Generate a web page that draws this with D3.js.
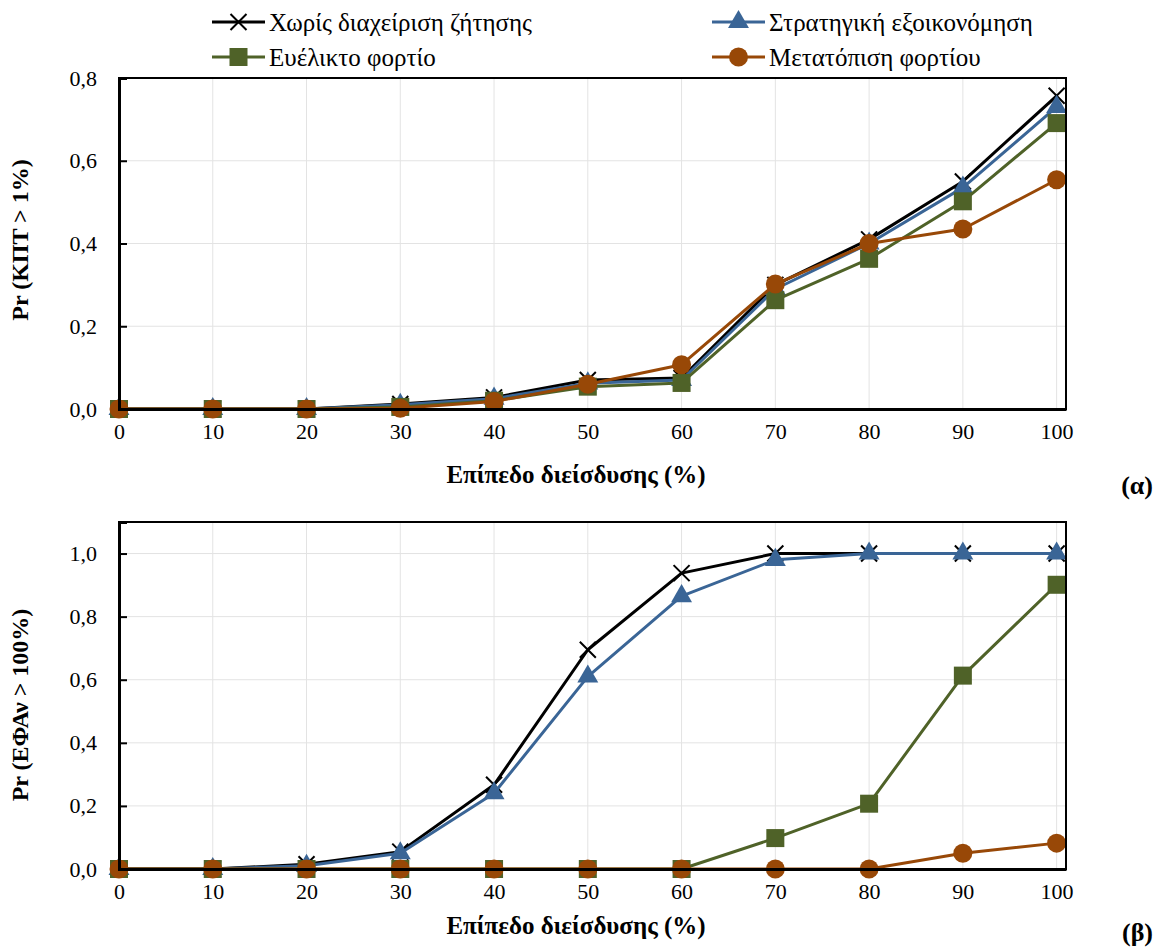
<!DOCTYPE html>
<html>
<head>
<meta charset="utf-8">
<script src="https://cdn.jsdelivr.net/npm/d3@7"></script>
<style>
  body { margin: 0; background: #fff; }
  text { font-family: "Liberation Serif", "DejaVu Serif", serif; fill: #000; }
</style>
</head>
<body>
<div id="chart"></div>
<script>
// penetration levels (x)
let levels = [0, 10, 20, 30, 40, 50, 60, 70, 80, 90, 100];

let seriesNames = ["Χωρίς διαχείριση ζήτησης", "Στρατηγική εξοικονόμηση", "Ευέλικτο φορτίο", "Μετατόπιση φορτίου"];

// (α) Pr (ΚΠΤ > 1%)
let noDR_a     = [0, 0, 0, 0.012, 0.028, 0.07, 0.075, 0.30, 0.41, 0.55, 0.757];
let saving_a   = [0, 0, 0, 0.010, 0.025, 0.062, 0.07, 0.29, 0.40, 0.535, 0.73];
let flexible_a = [0, 0, 0, 0.005, 0.02, 0.054, 0.063, 0.263, 0.363, 0.502, 0.691];
let shift_a    = [0, 0, 0, 0.002, 0.018, 0.06, 0.107, 0.302, 0.40, 0.435, 0.554];

// (β) Pr (ΕΦΑν > 100%)
let noDR_b     = [0, 0, 0.015, 0.055, 0.267, 0.695, 0.938, 1, 1, 1, 1];
let saving_b   = [0, 0, 0.01, 0.05, 0.24, 0.61, 0.865, 0.98, 1, 1, 1];
let flexible_b = [0, 0, 0, 0, 0, 0, 0, 0.098, 0.207, 0.613, 0.901];
let shift_b    = [0, 0, 0, 0, 0, 0, 0, 0, 0, 0.05, 0.082];

let yTicksA = [0, 0.2, 0.4, 0.6, 0.8];
let yTicksB = [0, 0.2, 0.4, 0.6, 0.8, 1.0];

let colors = ["#000000", "#3A6596", "#4F6228", "#984807"];
let markers = ["cross", "triangle", "square", "circle"];

let width = 1159, height = 952;

let svg = d3.select("#chart")
    .append("svg")
    .attr("width", width)
    .attr("height", height);

let x = d3.scaleLinear().domain([0, 101]).range([119, 1066]);

let fmt = d => d3.format(".1f")(d).replace(".", ",");

function drawMarker(g, type, color) {
    if (type === "cross") {
        g.append("path")
            .attr("d", "M-8,-8L8,8M-8,8L8,-8")
            .attr("stroke", color)
            .attr("stroke-width", 2)
            .attr("fill", "none");
    } else if (type === "triangle") {
        g.append("path")
            .attr("d", d3.symbol().type(d3.symbolTriangle).size(190)())
            .attr("fill", color);
    } else if (type === "square") {
        g.append("rect")
            .attr("x", -9).attr("y", -9)
            .attr("width", 18).attr("height", 18)
            .attr("fill", color);
    } else {
        g.append("circle")
            .attr("r", 9.5)
            .attr("fill", color);
    }
}

function drawPanel(top, bottom, yMax, yTicks, data, yTitle, yTitleY, xTitleY, tag, tagY) {
    let y = d3.scaleLinear().domain([0, yMax]).range([bottom, top]);
    let g = svg.append("g");

    // grid
    g.append("g").selectAll("line").data(levels).enter()
        .append("line")
        .attr("x1", d => x(d)).attr("x2", d => x(d))
        .attr("y1", top).attr("y2", bottom)
        .attr("stroke", "#e3e3e3").attr("stroke-width", 1);
    g.append("g").selectAll("line").data(yTicks).enter()
        .append("line")
        .attr("x1", x(0)).attr("x2", x(101))
        .attr("y1", d => y(d)).attr("y2", d => y(d))
        .attr("stroke", "#e3e3e3").attr("stroke-width", 1);

    // lines
    let line = d3.line().x((d, i) => x(levels[i])).y(d => y(d));
    data.forEach(function(vals, k) {
        g.append("path")
            .datum(vals)
            .attr("d", line)
            .attr("fill", "none")
            .attr("stroke", colors[k])
            .attr("stroke-width", 3)
            .attr("stroke-linejoin", "round");
        vals.forEach(function(v, i) {
            let m = g.append("g").attr("transform", `translate(${x(levels[i])},${y(v)})`);
            drawMarker(m, markers[k], colors[k]);
        });
    });

    // box
    g.append("rect")
        .attr("x", x(0)).attr("y", top)
        .attr("width", x(101) - x(0)).attr("height", bottom - top)
        .attr("fill", "none").attr("stroke", "#000").attr("stroke-width", 2);

    // y axis
    let yAxis = g.append("g")
        .attr("transform", `translate(${x(0)},0)`)
        .call(d3.axisLeft(y).tickValues(yTicks).tickSize(-8).tickPadding(22).tickFormat(fmt));
    yAxis.select(".domain").attr("stroke-width", 3);
    yAxis.selectAll(".tick line").attr("stroke-width", 2);
    yAxis.selectAll("text").style("font-size", "22px").style("font-family", "Liberation Serif");

    // x axis
    let xAxis = g.append("g")
        .attr("transform", `translate(0,${bottom})`)
        .call(d3.axisBottom(x).tickValues(levels).tickSize(0).tickPadding(14).tickFormat(d3.format("d")));
    xAxis.select(".domain").attr("stroke-width", 3);
    xAxis.selectAll("text").style("font-size", "22px").style("font-family", "Liberation Serif");

    // titles
    g.append("text")
        .attr("transform", `translate(20, ${yTitleY}) rotate(-90)`)
        .attr("text-anchor", "middle")
        .attr("dominant-baseline", "central")
        .style("font-size", "24px")
        .style("font-weight", "bold")
        .text(yTitle);

    g.append("text")
        .attr("x", 576).attr("y", xTitleY)
        .attr("text-anchor", "middle")
        .attr("dominant-baseline", "central")
        .style("font-size", "25px")
        .style("font-weight", "bold")
        .text("Επίπεδο διείσδυσης (%)");

    g.append("text")
        .attr("x", 1153).attr("y", tagY)
        .attr("text-anchor", "end")
        .attr("dominant-baseline", "central")
        .style("font-size", "26px")
        .style("font-weight", "bold")
        .text(tag);
}

drawPanel(78, 409, 0.8, yTicksA, [noDR_a, saving_a, flexible_a, shift_a],
    "Pr (ΚΠΤ > 1%)", 240, 474, "(α)", 485);
drawPanel(522, 869, 1.1, yTicksB, [noDR_b, saving_b, flexible_b, shift_b],
    "Pr (ΕΦΑν > 100%)", 705, 925, "(β)", 932);

// legend
let legendPos = [[212, 22], [712, 22], [212, 57], [712, 57]];
let legend = svg.append("g");
seriesNames.forEach(function(name, k) {
    let [lx, ly] = legendPos[k];
    let item = legend.append("g").attr("transform", `translate(${lx},${ly})`);
    item.append("line")
        .attr("x1", 0).attr("x2", 53)
        .attr("stroke", colors[k]).attr("stroke-width", 3);
    let m = item.append("g").attr("transform", "translate(26.5,0)");
    drawMarker(m, markers[k], colors[k]);
    item.append("text")
        .attr("x", 57).attr("y", 0)
        .attr("dominant-baseline", "central")
        .style("font-size", "25px")
        .text(name);
});
</script>
</body>
</html>
